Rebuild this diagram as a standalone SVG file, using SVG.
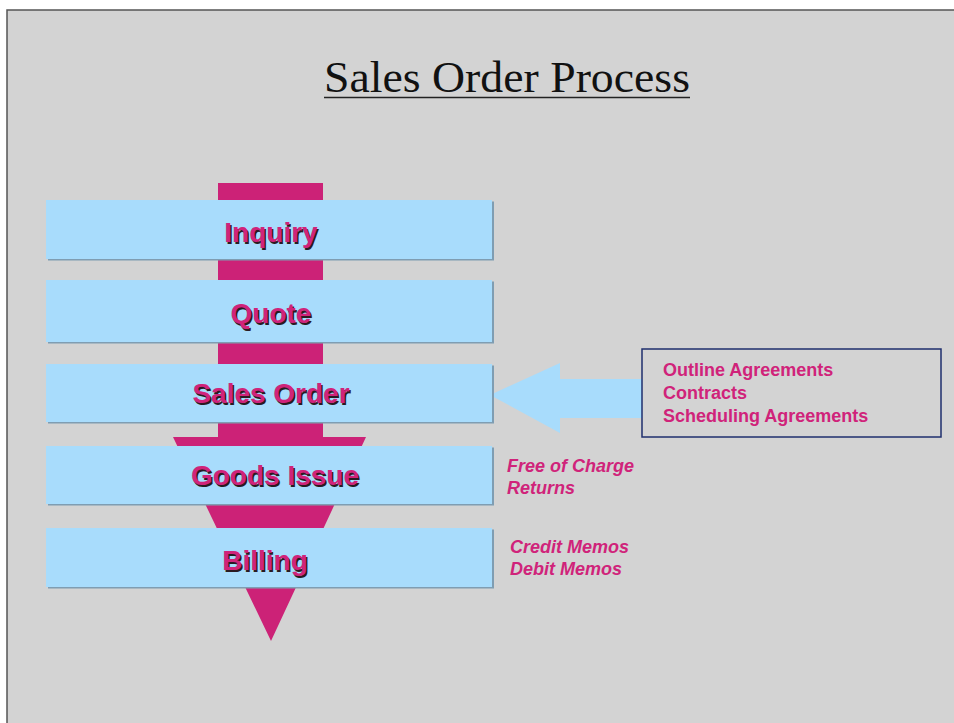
<svg xmlns="http://www.w3.org/2000/svg" width="954" height="723" viewBox="0 0 954 723">
<style>
.bg{fill:#d3d3d3}
.frame{fill:none;stroke:#555;stroke-width:1.5}
.title{font-family:"Liberation Serif","Times New Roman",serif;font-size:45px;fill:#111}
.box{fill:#a8dcfc}
.boxsh{fill:#7f9db2}
.lbl{font-family:"Liberation Sans",Arial,sans-serif;font-weight:bold;font-size:28px;text-anchor:middle}
.pk{fill:#d0237a}
.sh{fill:#2a1a22}
.side{font-family:"Liberation Sans",Arial,sans-serif;font-weight:bold;font-size:18px;fill:#d0237a}
.it{font-style:italic}
.sbox{fill:none;stroke:#1f2f6e;stroke-width:1.5}
</style>
<rect x="0" y="0" width="954" height="723" fill="#ffffff"/>
<rect class="bg" x="7" y="10" width="947" height="713"/>
<path class="frame" d="M7,723 V10 H954"/>
<g id="title">
<text class="title" x="324" y="92" textLength="366" lengthAdjust="spacingAndGlyphs">Sales Order Process</text>
<line x1="324" y1="97.5" x2="690" y2="97.5" stroke="#222" stroke-width="1.5"/>
</g>
<g id="connectors">
<path id="flow-arrow" fill="#cc2277" d="M218,183 H323 V437 H366 L271,641 L173,437 H218 Z"/>
<path id="agreements-arrow" fill="#a8dcfc" d="M490,395 L560,363 V379 H642 V418 H560 V433 Z"/>
</g>
<g id="inquiry">
<rect class="boxsh" x="48" y="201.5" width="446" height="59"/>
<rect class="box" x="46" y="200" width="446" height="59"/>
<text class="lbl sh" x="272.5" y="243.5">Inquiry</text>
<text class="lbl pk" x="271" y="242">Inquiry</text>
</g>
<g id="quote">
<rect class="boxsh" x="48" y="281.5" width="446" height="62"/>
<rect class="box" x="46" y="280" width="446" height="62"/>
<text class="lbl sh" x="272.5" y="324.5">Quote</text>
<text class="lbl pk" x="271" y="323">Quote</text>
</g>
<g id="sales-order">
<rect class="boxsh" x="48" y="365.5" width="446" height="58"/>
<rect class="box" x="46" y="364" width="446" height="58"/>
<text class="lbl sh" x="272.5" y="404.5">Sales Order</text>
<text class="lbl pk" x="271" y="403">Sales Order</text>
</g>
<g id="goods-issue">
<rect class="boxsh" x="48" y="447.5" width="446" height="58"/>
<rect class="box" x="46" y="446" width="446" height="58"/>
<text class="lbl sh" x="276.5" y="486.5">Goods Issue</text>
<text class="lbl pk" x="275" y="485">Goods Issue</text>
</g>
<g id="billing">
<rect class="boxsh" x="48" y="529.5" width="446" height="59"/>
<rect class="box" x="46" y="528" width="446" height="59"/>
<text class="lbl sh" x="266.5" y="571.5">Billing</text>
<text class="lbl pk" x="265" y="570">Billing</text>
</g>
<g id="agreements">
<rect class="sbox" x="642" y="349" width="299" height="88"/>
<text class="side" x="663" y="376">Outline Agreements</text>
<text class="side" x="663" y="399">Contracts</text>
<text class="side" x="663" y="422">Scheduling Agreements</text>
</g>
<g id="goods-issue-notes">
<text class="side it" x="507" y="472">Free of Charge</text>
<text class="side it" x="507" y="494">Returns</text>
</g>
<g id="billing-notes">
<text class="side it" x="510" y="553">Credit Memos</text>
<text class="side it" x="510" y="575">Debit Memos</text>
</g>
</svg>
